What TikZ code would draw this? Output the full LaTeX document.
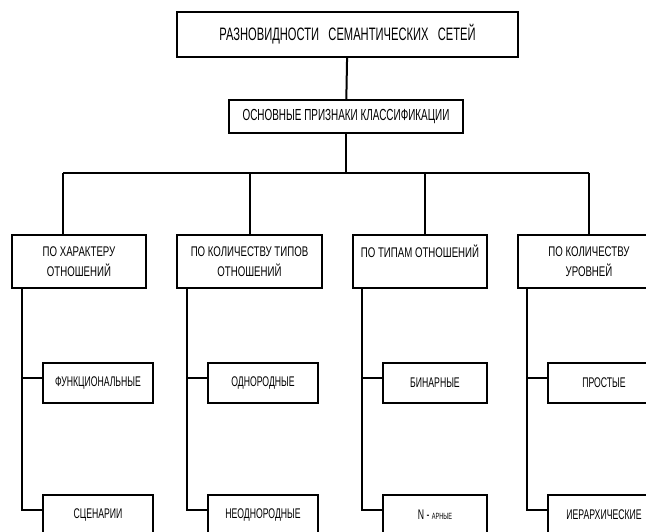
\documentclass[tikz,border=0pt]{standalone}
\usepackage{fontspec}
\setmainfont{Liberation Sans}[FakeStretch=0.62]
\newfontfamily\critfont{Liberation Sans}[FakeStretch=0.69]
\usetikzlibrary{positioning,calc}

\begin{document}
\begin{tikzpicture}[x=1pt,y=-1pt]
\tikzset{box/.style={draw, line width=2pt, inner sep=0pt, align=center,
    font=\fontsize{14}{20}\selectfont},
  link/.style={line width=2pt}}
\useasboundingbox (0,0) rectangle (646,532);
\clip (0,0) rectangle (646,532);

\node[box, minimum width=341, minimum height=45, font=\fontsize{18}{20}\selectfont] (root) at (347.5,34.5) {РАЗНОВИДНОСТИ~~~СЕМАНТИЧЕСКИХ~~~СЕТЕЙ};
\node[box, minimum width=234, minimum height=33, font=\fontsize{16}{20}\selectfont] (crit) at (346,116.5) {ОСНОВНЫЕ ПРИЗНАКИ КЛАССИФИКАЦИИ};

% признаки
\tikzset{group/.style={box, minimum height=53, font=\critfont\fontsize{14}{20}\selectfont}}
\node[group, minimum width=134] (c1) at (79,261.5) {ПО ХАРАКТЕРУ\\ОТНОШЕНИЙ};
\node[group, minimum width=145] (c2) at (249.5,261.5) {ПО КОЛИЧЕСТВУ ТИПОВ\\ОТНОШЕНИЙ};
\node[group, minimum width=134] (c3) at (420,261.5) {ПО ТИПАМ ОТНОШЕНИЙ\\~};
\node[group, minimum width=142] (c4) at (589,261.5) {ПО КОЛИЧЕСТВУ\\УРОВНЕЙ};

% разновидности
\node[box, minimum width=110, minimum height=40] (l1a) at (98,383) {ФУНКЦИОНАЛЬНЫЕ};
\node[box, minimum width=110, minimum height=40] (l1b) at (98,515) {СЦЕНАРИИ};
\node[box, minimum width=110, minimum height=40] (l2a) at (263,383) {ОДНОРОДНЫЕ};
\node[box, minimum width=110, minimum height=40] (l2b) at (263,515) {НЕОДНОРОДНЫЕ};
\node[box, minimum width=104, minimum height=40] (l3a) at (435,383) {БИНАРНЫЕ};
\node[box, minimum width=104, minimum height=40] (l3b) at (435,515) {N - {\fontsize{9}{10}\selectfont АРНЫЕ}};
\node[box, minimum width=112, minimum height=40] (l4a) at (604,383) {ПРОСТЫЕ};
\node[box, minimum width=112, minimum height=40] (l4b) at (604,515) {ИЕРАРХИЧЕСКИЕ};

\draw[link] (root) -- (crit);
\coordinate (bus) at (0,173);
\draw[link] (crit) -- (crit |- bus);
\coordinate (t1) at ($(c1.north)+(-16,0)$);
\coordinate (t2) at (c2.north);
\coordinate (t3) at ($(c3.north)+(5,0)$);
\coordinate (t4) at (c4.north);
\draw[link] (t1 |- bus) -- (t4 |- bus);
\draw[link] (t1 |- bus) -- (t1);
\draw[link] (t2 |- bus) -- (t2);
\draw[link] (t3 |- bus) -- (t3);
\draw[link] (t4 |- bus) -- (t4);

\coordinate (s1) at ($(c1.south west)+(11,0)$);
\coordinate (s2) at ($(c2.south west)+(11,0)$);
\coordinate (s3) at ($(c3.south west)+(10,0)$);
\coordinate (s4) at ($(c4.south west)+(10,0)$);
\draw[link] (s1) |- ([yshift=5pt]l1a.west);
\draw[link] (s1) |- ([yshift=5pt]l1b.west);
\draw[link] (s2) |- ([yshift=5pt]l2a.west);
\draw[link] (s2) |- ([yshift=5pt]l2b.west);
\draw[link] (s3) |- ([yshift=5pt]l3a.west);
\draw[link] (s3) |- ([yshift=5pt]l3b.west);
\draw[link] (s4) |- ([yshift=5pt]l4a.west);
\draw[link] (s4) |- ([yshift=5pt]l4b.west);
\end{tikzpicture}
\end{document}
